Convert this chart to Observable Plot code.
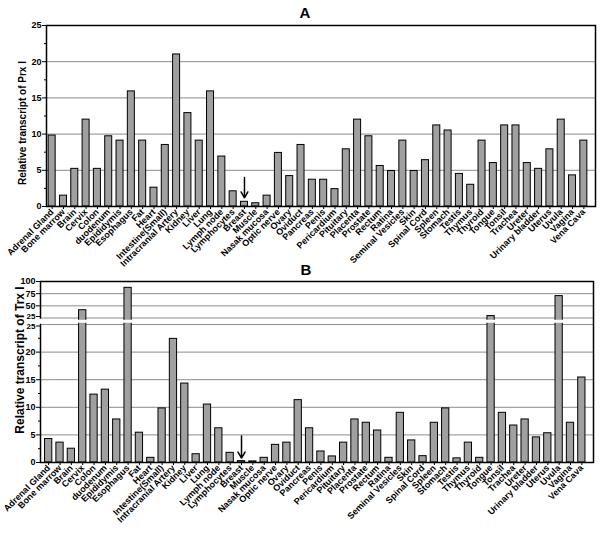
<!DOCTYPE html>
<html><head><meta charset="utf-8">
<script src="https://cdn.jsdelivr.net/npm/d3@7"></script>
<script src="https://cdn.jsdelivr.net/npm/@observablehq/plot@0.6"></script>
<style>
body{margin:0;background:#fff;font-family:"Liberation Sans",Arial,sans-serif;}
#wrap{position:relative;width:600px;height:533px;overflow:hidden;}
.panel{position:absolute;left:0;}
.title{position:absolute;font-weight:bold;font-size:15px;transform:translate(-50%,-50%);line-height:1;}
</style></head><body>
<div id="wrap">
<div id="pa" class="panel" style="top:0"></div>
<div id="pb" class="panel" style="top:268px"></div>
<div class="title" style="left:305px;top:12px">A</div>
<div class="title" style="left:306px;top:269px">B</div>
</div>
<script>
const tissues = ["Adrenal Gland","Bone marrow","Brain","Cervix","Colon","duodenum","Epididymis","Esophagus","Fat","Heart","Intestine(Small)","Intracranial Artery","Kidney","Liver","Lung","Lymph node","Lymphocytes","Breast","Muscle","Nasak mucosa","Optic nerve","Ovary","Oviduct","Pancreas","Penis","Pericardium","Pituitary","Placenta","Prostate","Rectum","Ratina","Seminal Vesicles","Skin","Spinal Cord","Spleen","Stomach","Testis","Thymus","Thyroid","Tongue","Tonsil","Trachea","Ureter","Urinary bladder","Uterus","Uvula","Vagina","Vena Cava"];

const prx = [9.8,1.5,5.2,12.0,5.2,9.7,9.1,15.9,9.1,2.6,8.5,21.0,12.9,9.1,15.9,6.9,2.1,0.65,0.45,1.5,7.4,4.2,8.5,3.7,3.7,2.4,7.9,12.0,9.7,5.6,4.9,9.1,4.9,6.4,11.2,10.5,4.5,3.0,9.1,6.0,11.2,11.2,6.0,5.2,7.9,12.0,4.3,9.1];

const trx = [4.25,3.6,2.5,41,12.3,13.2,7.8,87,5.4,0.85,9.8,22.4,14.3,1.5,10.5,6.2,1.75,0.25,0.2,0.85,3.2,3.6,11.3,6.2,2.0,1.1,3.6,7.8,7.2,5.8,0.85,9.0,4.0,1.15,7.2,9.8,0.75,3.6,0.85,29,9.0,6.7,7.8,4.55,5.3,70,7.2,15.4];

const labelA = "Relative transcript of Prx I";
const labelB = "Relative transcript of Trx I";

const ticksA = [0,5,10,15,20,25];
const minorA = [2.5,7.5,12.5,17.5,22.5];
const gridA = [5,10,15,20];

// panel B: broken axis (0–25 full scale, 25–100 compressed)
const ticksBLow = [0,5,10,15,20];
const ticksBUp = [50,75,100];
const breakTick = [25];
const minorBLow = [2.5,7.5,12.5,17.5,22.5];
const gridBLow = [5,10,15,20,25];
const gridBUp = [25,50,75];
const brk = 25, gapUnits = 1.18, upperK = 0.0882;
const brokenY = v => v <= brk ? v : brk + gapUnits + (v - brk) * upperK;
const upY = v => brk + gapUnits + (v - brk) * upperK;   // upper-segment position of a value

const arrowA = [{tissue:"Breast", from:4.0, to:1.2}];
const arrowB = [{tissue:"Breast", from:4.8, to:0.8}];

const font = '"Liberation Sans", Arial, Helvetica, sans-serif';
const barFill = "#a0a0a0", gridColor = "#8c8c8c";

const dataA = tissues.map((t,i)=>({tissue:t, value:prx[i]}));
const dataB = tissues.map((t,i)=>({tissue:t, value:trx[i]}));

const plotA = Plot.plot({
  width: 600, height: 268,
  marginTop: 25, marginBottom: 62, marginLeft: 46, marginRight: 5,
  style: {fontFamily: font, fontSize: "9px", fontWeight: "bold", background: "transparent", color: "black"},
  x: {type: "band", domain: tissues, range: [46, 589], paddingInner: 0.38, paddingOuter: 0.19, align: 0.5, round: false},
  y: {domain: [0, 25], range: [206, 25]},
  marks: [
    Plot.ruleY(gridA, {stroke: gridColor, strokeWidth: 1}),
    Plot.barY(dataA, {x: "tissue", y: "value", fill: barFill, stroke: "black", strokeWidth: 1}),
    Plot.arrow(arrowA, {x1: "tissue", x2: "tissue", y1: "from", y2: "to", stroke: "black", strokeWidth: 1.5, headLength: 7}),
    Plot.frame({stroke: "black", strokeWidth: 1.5}),
    Plot.axisY(ticksA, {tickSize: 4, tickPadding: 1, label: null}),
    Plot.axisY(minorA, {tickSize: 2, tickFormat: () => "", label: null}),
    Plot.axisX({tickSize: 3, tickPadding: 1, tickRotate: -45, label: null}),
    Plot.text([labelA], {text: d => d, frameAnchor: "left", dx: -24, dy: 7, rotate: -90, fontSize: 10, textAnchor: "middle"})
  ]
});
document.getElementById("pa").appendChild(plotA);

const plotB = Plot.plot({
  width: 600, height: 265,
  marginTop: 13, marginBottom: 71, marginLeft: 40, marginRight: 7,
  style: {fontFamily: font, fontSize: "9px", fontWeight: "bold", background: "transparent", color: "black"},
  x: {type: "band", domain: tissues, range: [42.5, 587], paddingInner: 0.36, paddingOuter: 0.18, align: 0.5, round: false},
  y: {domain: [0, brokenY(100)], range: [194, 13]},
  marks: [
    Plot.ruleY(gridBLow, {stroke: gridColor, strokeWidth: 1}),
    Plot.ruleY(gridBUp, {y: upY, stroke: gridColor, strokeWidth: 1}),
    Plot.barY(dataB, {x: "tissue", y: d => brokenY(d.value), fill: barFill, stroke: "black", strokeWidth: 1}),
    Plot.ruleY([brk + gapUnits / 2], {stroke: "white", strokeWidth: 3}),
    Plot.arrow(arrowB, {x1: "tissue", x2: "tissue", y1: "from", y2: "to", stroke: "black", strokeWidth: 1.5, headLength: 7}),
    Plot.frame({stroke: "black", strokeWidth: 1.5}),
    // break in the left axis line
    Plot.ruleY([brk + gapUnits / 2], {stroke: "white", strokeWidth: 5, insetLeft: -2, insetRight: 549}),
    Plot.axisY(ticksBLow, {tickSize: 4, tickPadding: 1, label: null}),
    Plot.axisY(ticksBUp, {y: upY, text: d => String(d), tickSize: 4, tickPadding: 1, label: null}),
    Plot.axisY(breakTick, {tickSize: 4, tickPadding: 1, label: null, fontSize: 8, dy: 1.5}),
    Plot.axisY(breakTick, {y: upY, text: d => String(d), tickSize: 4, tickPadding: 1, label: null, fontSize: 8, dy: -1.5}),
    Plot.axisY(minorBLow, {tickSize: 2, tickFormat: () => "", label: null}),
    Plot.axisX({tickSize: 3, tickPadding: 1, tickRotate: -45, label: null}),
    Plot.text([labelB], {text: d => d, frameAnchor: "left", dx: -20, dy: -12, rotate: -90, fontSize: 12, textAnchor: "middle"})
  ]
});
document.getElementById("pb").appendChild(plotB);
</script>
</body></html>
